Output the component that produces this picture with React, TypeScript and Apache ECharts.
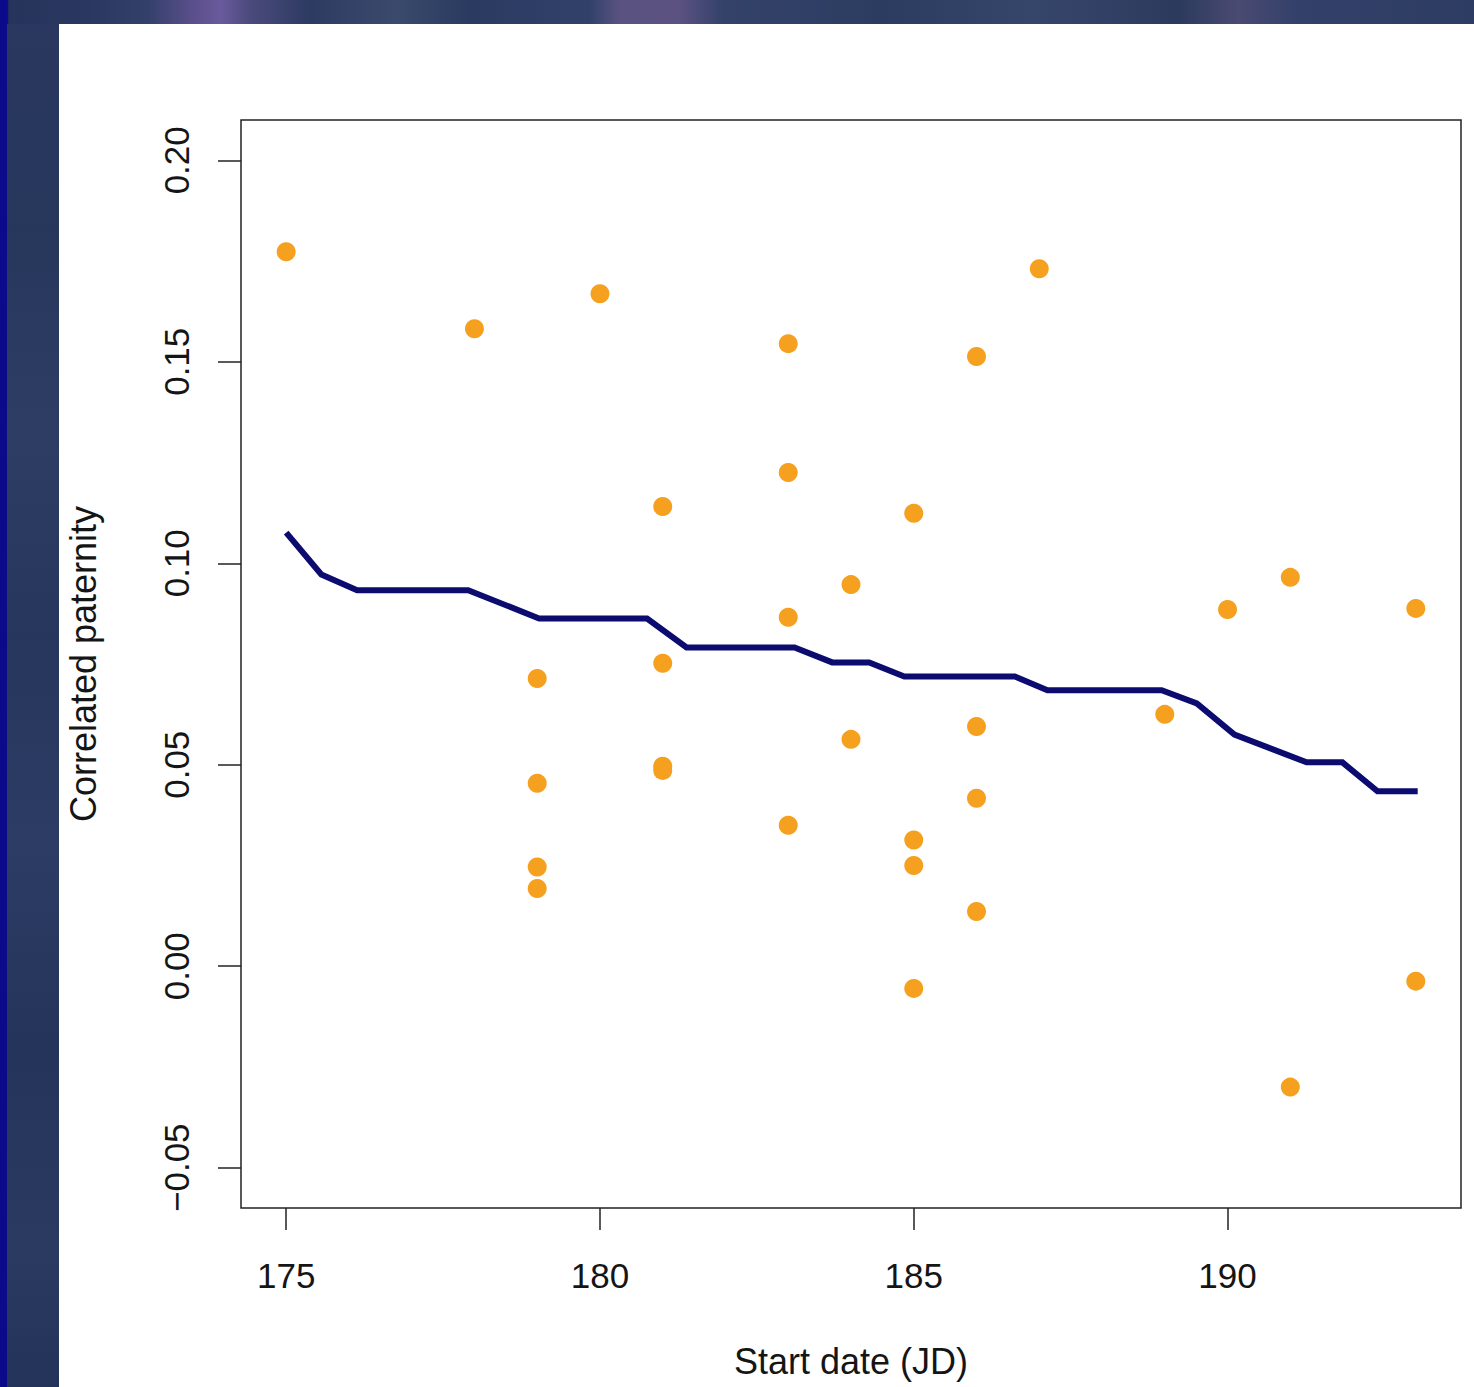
import React, { useEffect, useRef } from "react";
import * as echarts from "echarts";

const scatterX = [175, 178, 180, 179, 179, 179, 179, 181, 181, 181, 181, 183, 183, 183, 183, 184, 184, 185, 185, 185, 185, 186, 186, 186, 186, 187, 189, 190, 191, 191, 193, 193];
const scatterY = [0.1773, 0.1582, 0.1669, 0.0714, 0.0454, 0.0246, 0.0193, 0.1141, 0.0752, 0.0496, 0.0486, 0.1545, 0.1225, 0.0866, 0.035, 0.0947, 0.0563, 0.1124, 0.0313, 0.025, -0.0055, 0.1513, 0.0595, 0.0417, 0.0136, 0.1731, 0.0625, 0.0885, 0.0965, -0.03, 0.0888, -0.0037];

const lineX = [175, 175.56, 176.13, 177.9, 179.03, 180.75, 181.38, 183.1, 183.7, 184.29, 184.85, 186.61, 187.13, 188.95, 189.51, 190.11, 191.26, 191.83, 192.39, 193.03];
const lineY = [0.1076, 0.0972, 0.0933, 0.0933, 0.0863, 0.0863, 0.0791, 0.0791, 0.0754, 0.0754, 0.0719, 0.0719, 0.0685, 0.0685, 0.0652, 0.0575, 0.0506, 0.0506, 0.0434, 0.0434];

const xTicks = [175, 180, 185, 190];
const yTicks = [-0.05, 0, 0.05, 0.1, 0.15, 0.2];

const xTitle = "Start date (JD)";
const yTitle = "Correlated paternity";

const FONT = "'Liberation Sans', Arial, sans-serif";
const INK = "#151515";

export default function App() {
  const ref = useRef<HTMLDivElement>(null);

  useEffect(() => {
    if (!ref.current) return;
    const chart = echarts.init(ref.current, null, { renderer: "svg" });

    const topGrad = new echarts.graphic.LinearGradient(0, 0, 1, 0, [
      { offset: 0, color: "#0a0a8a" },
      { offset: 0.005, color: "#0a0a8a" },
      { offset: 0.006, color: "#26335a" },
      { offset: 0.06, color: "#2a3760" },
      { offset: 0.1, color: "#33406a" },
      { offset: 0.13, color: "#5a4f8a" },
      { offset: 0.15, color: "#6a5a9c" },
      { offset: 0.17, color: "#4a4a7c" },
      { offset: 0.21, color: "#2d3b62" },
      { offset: 0.27, color: "#3a4a6c" },
      { offset: 0.32, color: "#2a3a60" },
      { offset: 0.4, color: "#31416a" },
      { offset: 0.42, color: "#5a5280" },
      { offset: 0.46, color: "#5c5282" },
      { offset: 0.49, color: "#34426a" },
      { offset: 0.6, color: "#2c3c60" },
      { offset: 0.7, color: "#36466a" },
      { offset: 0.8, color: "#2c3a5e" },
      { offset: 0.84, color: "#4a4a72" },
      { offset: 0.88, color: "#33416a" },
      { offset: 1, color: "#2d3c62" },
    ]);
    const leftGrad = new echarts.graphic.LinearGradient(0, 0, 0, 1, [
      { offset: 0, color: "#2a3760" },
      { offset: 0.15, color: "#27375c" },
      { offset: 0.3, color: "#2e3d64" },
      { offset: 0.45, color: "#26365c" },
      { offset: 0.6, color: "#2c3c64" },
      { offset: 0.75, color: "#24345a" },
      { offset: 0.9, color: "#2a3a60" },
      { offset: 1, color: "#23335a" },
    ]);

    const option: any = {
      animation: false,
      backgroundColor: "#ffffff",
      graphic: [
        { type: "rect", z: -10, silent: true, shape: { x: 0, y: 0, width: 1474, height: 1387 }, style: { fill: "#2a3a5e" } },
        { type: "rect", z: -10, silent: true, shape: { x: 0, y: 0, width: 1474, height: 24 }, style: { fill: topGrad } },
        { type: "rect", z: -10, silent: true, shape: { x: 7, y: 24, width: 52, height: 1363 }, style: { fill: leftGrad } },
        { type: "rect", z: -10, silent: true, shape: { x: 0, y: 0, width: 7, height: 1387 }, style: { fill: "#0a0a8a" } },
        { type: "rect", z: -10, silent: true, shape: { x: 59, y: 24, width: 1415, height: 1363 }, style: { fill: "#ffffff" } },
      ],
      grid: {
        left: 241,
        top: 120,
        width: 1220,
        height: 1088,
        show: true,
        borderColor: "#222222",
        borderWidth: 1.5,
        backgroundColor: "transparent",
      },
      xAxis: {
        type: "value",
        min: 174.28,
        max: 193.72,
        splitLine: { show: false },
        axisLine: { show: false, onZero: false },
        axisTick: {
          show: true,
          customValues: xTicks,
          length: 22,
          lineStyle: { color: "#222222", width: 1.5 },
        },
        axisLabel: {
          customValues: xTicks,
          margin: 50,
          fontSize: 35,
          fontFamily: FONT,
          color: INK,
        },
        name: xTitle,
        nameLocation: "middle",
        nameGap: 135,
        nameTextStyle: { fontSize: 36, fontFamily: FONT, color: INK },
      },
      yAxis: {
        type: "value",
        min: -0.06,
        max: 0.21,
        splitLine: { show: false },
        axisLine: { show: false, onZero: false },
        axisTick: {
          show: true,
          customValues: yTicks,
          length: 23,
          lineStyle: { color: "#222222", width: 1.5 },
        },
        axisLabel: {
          customValues: yTicks,
          rotate: 90,
          margin: 47,
          fontSize: 35,
          fontFamily: FONT,
          color: INK,
          formatter: (v: number) => (v < -1e-9 ? "\u2212" : "") + Math.abs(v).toFixed(2),
        },
        name: yTitle,
        nameLocation: "middle",
        nameGap: 140,
        nameTextStyle: { fontSize: 36, fontFamily: FONT, color: INK },
      },
      series: [
        {
          type: "scatter",
          data: scatterX.map((x, i) => [x, scatterY[i]]),
          symbol: "circle",
          symbolSize: 19,
          itemStyle: { color: "#F5A01E", opacity: 1 },
          z: 2,
        },
        {
          type: "line",
          data: lineX.map((x, i) => [x, lineY[i]]),
          showSymbol: false,
          symbol: "none",
          lineStyle: { color: "#0b0b70", width: 6, join: "miter" },
          z: 3,
        },
      ],
    };

    chart.setOption(option);
    return () => chart.dispose();
  }, []);

  return (
    <div
      ref={ref}
      style={{ position: "absolute", left: 0, top: 0, width: 1474, height: 1387 }}
    />
  );
}
